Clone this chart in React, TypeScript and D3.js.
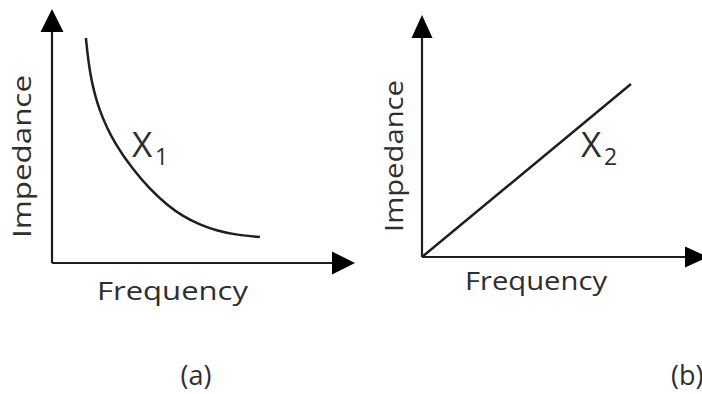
import React from "react";
import * as d3 from "d3";

// Panel (a): capacitive reactance falls with frequency (data units 0..100)
const curveFreq = [11.3, 12.5, 15.5, 21.2, 27, 32.7, 38.3, 43.7, 49.3, 55, 61.7, 69.3];
const curveImp = [90, 76, 61, 47, 37.4, 29.4, 23.3, 18.6, 15.3, 12.9, 11.2, 10.4];
// Panel (b): inductive reactance rises linearly
const lineFreq = [0, 74.9];
const lineImp = [0, 70.9];

const axisLabelX = "Frequency";
const axisLabelY = "Impedance";
const seriesNames = ["X", "X"];
const seriesSubs = ["1", "2"];
const panelLabels = ["(a)", "(b)"];

const W = 702;
const H = 394;
const INK = "#1e1e1e";
const TEXT = "#2e2e2e";
const FONT = "'Open Sans', 'Noto Sans', sans-serif";

type Panel = {
  x0: number; x1: number; y0: number; y1: number;
  yArrowTip: number; yArrowHalf: number;
  xArrowTip: number; xArrowHalf: number;
};

const pA: Panel = { x0: 52, x1: 352, y0: 263, y1: 13, yArrowTip: 9, yArrowHalf: 11.5, xArrowTip: 355, xArrowHalf: 11.5 };
const pB: Panel = { x0: 422, x1: 701, y0: 257, y1: 13, yArrowTip: 15, yArrowHalf: 10.5, xArrowTip: 708, xArrowHalf: 10.5 };

function Axes({ p }: { p: Panel }) {
  const ah = 23;
  return (
    <g>
      <line x1={p.x0} y1={p.y0} x2={p.x0} y2={p.yArrowTip + ah - 1} stroke={INK} strokeWidth={2.2} />
      <line x1={p.x0} y1={p.y0} x2={p.xArrowTip - ah + 1} y2={p.y0} stroke={INK} strokeWidth={2.2} />
      <path
        d={`M${p.x0},${p.yArrowTip} L${p.x0 - p.yArrowHalf},${p.yArrowTip + ah} L${p.x0 + p.yArrowHalf},${p.yArrowTip + ah} Z`}
        fill="#000"
      />
      <path
        d={`M${p.xArrowTip},${p.y0} L${p.xArrowTip - ah},${p.y0 - p.xArrowHalf} L${p.xArrowTip - ah},${p.y0 + p.xArrowHalf} Z`}
        fill="#000"
      />
    </g>
  );
}

export default function App() {
  const xA = d3.scaleLinear().domain([0, 100]).range([pA.x0, pA.x1]);
  const yA = d3.scaleLinear().domain([0, 100]).range([pA.y0, pA.y1]);
  const xB = d3.scaleLinear().domain([0, 100]).range([pB.x0, pB.x1]);
  const yB = d3.scaleLinear().domain([0, 100]).range([pB.y0, pB.y1]);

  const ptsA = curveFreq.map((f, i) => [f, curveImp[i]] as [number, number]);
  const ptsB = lineFreq.map((f, i) => [f, lineImp[i]] as [number, number]);

  const curveGen = d3
    .line<[number, number]>()
    .x((d) => xA(d[0]))
    .y((d) => yA(d[1]))
    .curve(d3.curveBasis);
  const lineGen = d3
    .line<[number, number]>()
    .x((d) => xB(d[0]))
    .y((d) => yB(d[1]));

  return (
    <svg
      width={W}
      height={H}
      viewBox={`0 0 ${W} ${H}`}
      style={{ position: "absolute", left: 0, top: 0, background: "#fff" }}
      fontFamily={FONT}
    >
      <rect width={W} height={H} fill="#fff" />
      <Axes p={pA} />
      <Axes p={pB} />
      <path d={curveGen(ptsA) || ""} fill="none" stroke={INK} strokeWidth={2.5} />
      <path d={lineGen(ptsB) || ""} fill="none" stroke={INK} strokeWidth={2.5} />

      {/* Axis labels panel (a) */}
      <text x={97} y={300} fontSize={25} fill={TEXT} textLength={151} lengthAdjust="spacingAndGlyphs">
        {axisLabelX}
      </text>
      <text
        transform="translate(31,238) rotate(-90)"
        fontSize={25}
        fill={TEXT}
        textLength={163}
        lengthAdjust="spacingAndGlyphs"
      >
        {axisLabelY}
      </text>

      {/* Axis labels panel (b) */}
      <text x={465} y={290} fontSize={25} fill={TEXT} textLength={142} lengthAdjust="spacingAndGlyphs">
        {axisLabelX}
      </text>
      <text
        transform="translate(403,232) rotate(-90)"
        fontSize={25}
        fill={TEXT}
        textLength={152}
        lengthAdjust="spacingAndGlyphs"
      >
        {axisLabelY}
      </text>

      {/* Series labels */}
      <text x={132} y={157} fontSize={35} fill={TEXT}>
        {seriesNames[0]}
      </text>
      <text x={155} y={165} fontSize={23} fill={TEXT}>
        {seriesSubs[0]}
      </text>
      <text x={581} y={157} fontSize={35} fill={TEXT}>
        {seriesNames[1]}
      </text>
      <text x={604} y={165} fontSize={23} fill={TEXT}>
        {seriesSubs[1]}
      </text>

      {/* Panel labels */}
      <text x={196} y={385} fontSize={27} fill={TEXT} textAnchor="middle">
        {panelLabels[0]}
      </text>
      <text x={671} y={385} fontSize={27} fill={TEXT}>
        {panelLabels[1]}
      </text>
    </svg>
  );
}
